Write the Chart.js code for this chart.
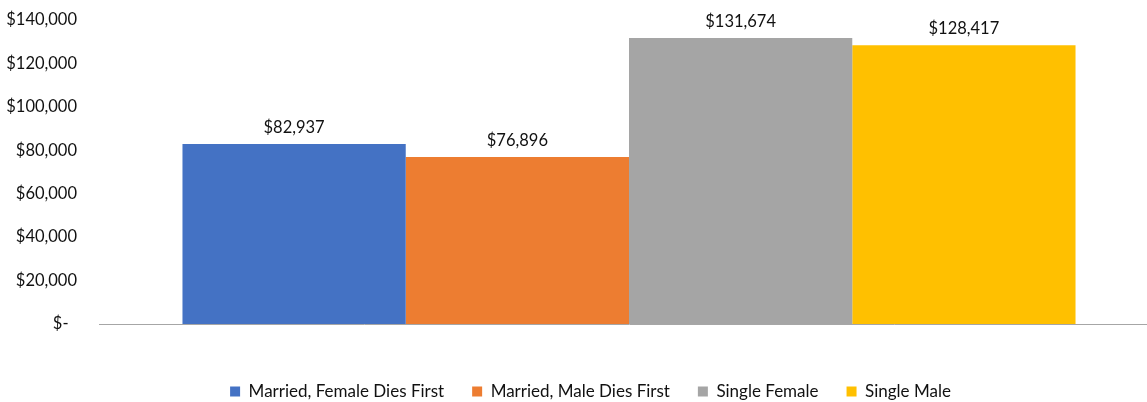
<!DOCTYPE html>
<html>
<head>
<meta charset="utf-8">
<script src="https://cdn.jsdelivr.net/npm/chart.js@4"></script>
<style>
  html, body { margin: 0; padding: 0; background: #fff; overflow: hidden; }
  #wrap { width: 1159px; height: 402px; }
</style>
</head>
<body>
<div id="wrap"><canvas id="myChart"></canvas></div>
<script>
// data
const categories = [''];
const seriesNames = ['Married, Female Dies First', 'Married, Male Dies First', 'Single Female', 'Single Male'];
const seriesValues = [82937, 76896, 131674, 128417];
const seriesColors = ['#4472C4', '#ED7D31', '#A5A5A5', '#FFC000'];
const yMin = 0;
const yMax = 140000;
const yStep = 20000;

const textColor = '#111111';
const fontFamily = 'Lato, "Open Sans", sans-serif';

function money(v) {
  if (v === 0) return '$-  ';
  return '$' + v.toLocaleString('en-US');
}

// labels above bars
const barLabels = {
  id: 'barLabels',
  afterDatasetsDraw(chart) {
    const ctx = chart.ctx;
    ctx.save();
    ctx.font = '16.5px ' + fontFamily;
    ctx.fillStyle = textColor;
    ctx.textAlign = 'center';
    ctx.textBaseline = 'alphabetic';
    chart.data.datasets.forEach((ds, i) => {
      const meta = chart.getDatasetMeta(i);
      meta.data.forEach((bar, j) => {
        ctx.fillText(money(ds.data[j]), bar.x, bar.y - 11);
      });
    });
    ctx.restore();
  }
};

// nudge legend a bit to the right
const legendShift = {
  id: 'legendShift',
  afterLayout(chart) {
    if (chart.legend) {
      chart.legend.left += 11;
      chart.legend.right += 11;
    }
  }
};

const datasets = seriesNames.map((name, i) => ({
  label: name,
  data: [seriesValues[i]],
  backgroundColor: seriesColors[i],
  borderWidth: 0
}));

const chartGraph = document.getElementById('myChart');

window.myChart = new Chart(chartGraph, {
  type: 'bar',
  data: { labels: categories, datasets: datasets },
  plugins: [barLabels, legendShift],
  options: {
    responsive: true,
    maintainAspectRatio: false,
    animation: false,
    layout: { padding: 0 },
    datasets: {
      bar: { barPercentage: 1, categoryPercentage: 0.8425 }
    },
    plugins: {
      tooltip: { enabled: false },
      legend: {
        position: 'bottom',
        maxHeight: 47,
        labels: {
          boxWidth: 10,
          boxHeight: 10,
          padding: 28,
          color: textColor,
          font: { family: fontFamily, size: 17 }
        }
      }
    },
    scales: {
      x: {
        grid: { display: false },
        border: { display: true, color: '#a6a6a6', width: 1 },
        ticks: { display: false },
        afterFit: s => { s.height = 31; }
      },
      y: {
        min: yMin,
        max: yMax,
        grid: { display: false },
        border: { display: false },
        ticks: {
          stepSize: yStep,
          padding: 14,
          color: textColor,
          font: { family: fontFamily, size: 16.5 },
          callback: v => money(v)
        },
        afterFit: s => { s.width = 99; s.paddingTop = 20; }
      }
    }
  }
});
</script>
</body>
</html>
